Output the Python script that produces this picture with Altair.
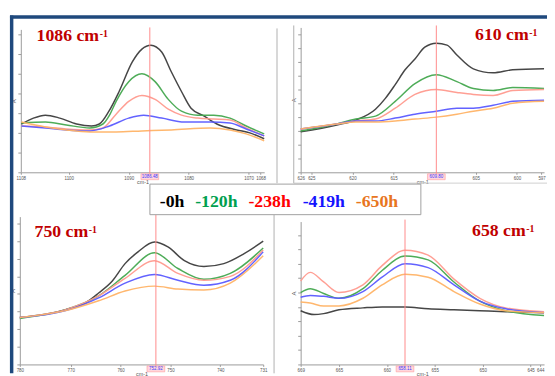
import altair as alt
import pandas as pd

SERIES = ["-0h", "-120h", "-238h", "-419h", "-650h"]
LINE_COLORS = ["#3c3c3c", "#45a84f", "#ff9a8e", "#5a5aff", "#ffb366"]
LABEL_COLORS = ["#000000", "#00a04f", "#ff0000", "#1414ff", "#e8761e"]

# ---------------- panel 1 : 1086 cm-1 ----------------
P1_WN = {
    "-0h": [1107.9, 1105.9, 1103.9, 1101.5, 1098.7, 1096.2, 1094.9, 1093.3, 1091.6, 1089.4, 1087.8,
            1086.3, 1084.5, 1082.9, 1081.2, 1079.6, 1077.4, 1075.3, 1072.0, 1069.8, 1067.4],
    "-120h": [1107.9, 1103.9, 1100.4, 1096.5, 1094.3, 1093.2, 1092.1, 1090.0, 1087.8, 1085.6, 1083.4,
              1081.2, 1078.5, 1075.8, 1073.1, 1070.4, 1067.4],
    "-238h": [1107.9, 1103.9, 1100.4, 1096.5, 1094.3, 1092.1, 1090.0, 1087.8, 1085.6, 1083.4, 1081.2,
              1078.5, 1075.8, 1073.1, 1070.4, 1067.4],
    "-419h": [1107.9, 1103.9, 1100.4, 1096.5, 1093.2, 1090.0, 1087.5, 1084.5, 1080.7, 1076.4, 1073.1,
              1070.4, 1067.4],
    "-650h": [1107.9, 1103.9, 1100.4, 1096.5, 1092.1, 1087.8, 1082.9, 1076.4, 1073.1, 1070.4, 1067.4],
}
P1_A = {
    "-0h": [0.49, 0.55, 0.58, 0.55, 0.49, 0.47, 0.49, 0.62, 0.82, 1.12, 1.25,
            1.29, 1.22, 1.02, 0.82, 0.65, 0.57, 0.49, 0.43, 0.40, 0.34],
    "-120h": [0.50, 0.51, 0.48, 0.45, 0.49, 0.58, 0.72, 0.92, 1.00, 0.92, 0.74,
              0.62, 0.58, 0.58, 0.55, 0.47, 0.39],
    "-238h": [0.47, 0.46, 0.44, 0.43, 0.45, 0.59, 0.72, 0.78, 0.74, 0.64, 0.58,
              0.55, 0.54, 0.53, 0.45, 0.37],
    "-419h": [0.47, 0.45, 0.43, 0.42, 0.47, 0.55, 0.58, 0.55, 0.51, 0.51, 0.50, 0.44, 0.37],
    "-650h": [0.51, 0.46, 0.43, 0.41, 0.41, 0.42, 0.43, 0.45, 0.43, 0.39, 0.32],
}
P1_XTICKS = [1108, 1100, 1090, 1080, 1070, 1068]
P1_CURSOR = 1086.48

# ---------------- panel 2 : 610 cm-1 ----------------
P2_COMMON_WN = [626.3, 621.9, 619.6, 617.2, 614.8, 612.4, 609.8, 607.3, 605.3, 602.9, 600.5, 596.7]
P2_WN = {
    "-0h": [626.3, 621.9, 619.6, 617.2, 616.0, 614.8, 613.6, 612.4, 611.2, 609.8, 608.5, 607.3,
            605.3, 602.9, 600.5, 596.7],
    "-120h": P2_COMMON_WN,
    "-238h": P2_COMMON_WN,
    "-419h": P2_COMMON_WN,
    "-650h": P2_COMMON_WN,
}
P2_A = {
    "-0h": [0.41, 0.48, 0.53, 0.64, 0.75, 0.89, 1.04, 1.15, 1.27, 1.31, 1.29, 1.19,
            1.05, 1.01, 1.04, 1.05],
    "-120h": [0.42, 0.49, 0.54, 0.57, 0.72, 0.90, 0.99, 0.92, 0.85, 0.83, 0.86, 0.85],
    "-238h": [0.44, 0.49, 0.52, 0.54, 0.65, 0.79, 0.84, 0.81, 0.79, 0.78, 0.83, 0.84],
    "-419h": [0.44, 0.49, 0.52, 0.52, 0.55, 0.59, 0.62, 0.65, 0.65, 0.68, 0.72, 0.73],
    "-650h": [0.44, 0.49, 0.51, 0.51, 0.52, 0.54, 0.56, 0.59, 0.62, 0.65, 0.70, 0.72],
}
P2_XTICKS = [626.3, 625, 620, 615, 605, 600, 597]
P2_CURSOR = 609.8

# ---------------- panel 3 : 750 cm-1 ----------------
P3_COMMON_WN = [780.2, 771.0, 764.4, 759.1, 753.2, 748.5, 743.3, 738.0, 731.4]
P3_WN = {
    "-0h": [780.2, 771.0, 767.0, 764.4, 761.7, 759.1, 756.5, 753.2, 750.5, 747.2, 743.3, 739.3,
            735.3, 731.4],
    "-120h": P3_COMMON_WN,
    "-238h": P3_COMMON_WN,
    "-419h": P3_COMMON_WN,
    "-650h": P3_COMMON_WN,
}
P3_A = {
    "-0h": [0.48, 0.56, 0.63, 0.73, 0.85, 1.03, 1.15, 1.25, 1.20, 1.06, 1.00, 1.03, 1.13, 1.26],
    "-120h": [0.47, 0.56, 0.70, 0.91, 1.14, 0.98, 0.87, 0.93, 1.19],
    "-238h": [0.48, 0.56, 0.70, 0.88, 1.06, 0.93, 0.86, 0.90, 1.17],
    "-419h": [0.48, 0.55, 0.68, 0.83, 0.92, 0.86, 0.81, 0.86, 1.15],
    "-650h": [0.48, 0.55, 0.65, 0.75, 0.80, 0.77, 0.76, 0.83, 1.11],
}
P3_XTICKS = [780.2, 770, 760, 750, 740, 731.4]
P3_CURSOR = 752.92

# ---------------- panel 4 : 658 cm-1 ----------------
P4_COMMON_WN = [669.0, 668.0, 666.6, 665.0, 662.5, 660.5, 658.1, 655.7, 653.0, 650.3, 647.6, 643.6]
P4_WN = {
    "-0h": [669.0, 667.6, 666.6, 665.0, 662.5, 660.5, 658.1, 655.7, 653.0, 650.3, 647.6, 643.6],
    "-120h": P4_COMMON_WN,
    "-238h": P4_COMMON_WN,
    "-419h": P4_COMMON_WN,
    "-650h": P4_COMMON_WN,
}
P4_A = {
    "-0h": [0.56, 0.52, 0.53, 0.57, 0.59, 0.60, 0.60, 0.58, 0.57, 0.56, 0.55, 0.54],
    "-120h": [0.75, 0.79, 0.74, 0.69, 0.79, 0.98, 1.13, 1.09, 0.86, 0.66, 0.56, 0.51],
    "-238h": [0.87, 0.96, 0.86, 0.75, 0.83, 1.03, 1.19, 1.14, 0.89, 0.69, 0.59, 0.55],
    "-419h": [0.70, 0.72, 0.71, 0.69, 0.76, 0.91, 1.05, 1.01, 0.83, 0.66, 0.58, 0.54],
    "-650h": [0.65, 0.64, 0.61, 0.61, 0.69, 0.83, 0.94, 0.91, 0.76, 0.63, 0.56, 0.54],
}
P4_XTICKS = [669, 665, 660, 655, 650, 645, 644]
P4_CURSOR = 658.11

PANEL_TITLES = ["1086", "610", "750", "658"]

W, H = 547, 368
SERIF = "Liberation Serif"
SANS = "Liberation Sans"
GRAY = "#9a9a9a"
CURSOR_RED = "#ff8a8a"
ONE = pd.DataFrame({"k": [0]})


def panel(wn, ab, xdom, ydom, xr, yr, xticks, yticks, cursor):
    rows = []
    for s in SERIES:
        for w_, a_ in zip(wn[s], ab[s]):
            rows.append({"series": s, "wn": w_, "A": a_})
    df = pd.DataFrame(rows)
    xs = alt.Scale(domain=xdom, range=xr, nice=False, zero=False)
    ys = alt.Scale(domain=ydom, range=yr, nice=False, zero=False)
    xaxis = alt.Axis(orient="bottom", offset=yr[0] - H, values=xticks, format="d",
                     labelFontSize=4.5, labelColor="#555555", labelPadding=1, labelFont=SANS,
                     labelFlush=False, labelOverlap=False, tickSize=2, tickColor=GRAY,
                     domainColor=GRAY, grid=False, title="cm-1", titleFontSize=5.5,
                     titleFont=SANS, titleFontWeight="normal", titleColor="#555555",
                     titlePadding=0)
    yaxis = alt.Axis(orient="left", offset=-xr[0], values=yticks, labels=False, tickSize=3,
                     tickColor=GRAY, domainColor=GRAY, grid=False, title="A",
                     titleFontSize=6, titleFont=SANS, titleFontWeight="normal",
                     titleColor="#555555", titlePadding=1)
    lines = alt.Chart(df).mark_line(interpolate="monotone", strokeWidth=1.5, opacity=0.95).encode(
        x=alt.X("wn:Q", scale=xs, axis=xaxis),
        y=alt.Y("A:Q", scale=ys, axis=yaxis),
        color=alt.Color("series:N", scale=alt.Scale(domain=SERIES, range=LINE_COLORS), legend=None),
    )
    rule = alt.Chart(ONE).mark_rule(strokeWidth=1).encode(
        x=alt.X(datum=cursor, scale=xs, axis=xaxis),
        y=alt.value(yr[1] - 2), y2=alt.value(yr[0] + 4),
        color=alt.value(CURSOR_RED),
    )
    box = alt.Chart(ONE).mark_rect(width=18, strokeWidth=0.6).encode(
        x=alt.X(datum=cursor, scale=xs, axis=xaxis),
        y=alt.value(yr[0] + 1.5), y2=alt.value(yr[0] + 7.5),
        fill=alt.value("#ffd6dc"), stroke=alt.value("#ff9a9a"),
    )
    lab = alt.Chart(pd.DataFrame({"c": [f"{cursor:.2f}"]})).mark_text(
        fontSize=4.5, font=SANS, baseline="middle", align="center"
    ).encode(
        x=alt.X(datum=cursor, scale=xs, axis=xaxis),
        y=alt.value(yr[0] + 4.5),
        text="c:N",
        color=alt.value("#3a3aff"),
    )
    return alt.layer(lines, rule, box, lab)


def hrule(x1, x2, y, color, w):
    return alt.Chart(ONE).mark_rule(strokeWidth=w).encode(
        x=alt.value(x1), x2=alt.value(x2), y=alt.value(y), color=alt.value(color))


def vrule(x, y1, y2, color, w):
    return alt.Chart(ONE).mark_rule(strokeWidth=w).encode(
        x=alt.value(x), y=alt.value(y1), y2=alt.value(y2), color=alt.value(color))


def title(num, x, y):
    main = alt.Chart(pd.DataFrame({"t": [num + " cm"]})).mark_text(
        font=SERIF, fontWeight="bold", fontSize=18, color="#c00000", align="left",
        baseline="alphabetic").encode(x=alt.value(x), y=alt.value(y), text="t:N")
    sup_x = x + 9 * len(num) + 28
    sup = alt.Chart(pd.DataFrame({"t": ["-1"]})).mark_text(
        font=SERIF, fontWeight="bold", fontSize=10, color="#c00000", align="left",
        baseline="alphabetic").encode(x=alt.value(sup_x), y=alt.value(y - 4), text="t:N")
    return [main, sup]


p1 = panel(P1_WN, P1_A, [1108, 1067.4], [0, 1.45], [13, 260], [164, 19], P1_XTICKS,
           [0, 0.2, 0.4, 0.6, 0.8, 1.0, 1.2, 1.4], P1_CURSOR)
p2 = panel(P2_WN, P2_A, [626.3, 596.7], [0, 1.47], [297, 544], [164, 17], P2_XTICKS,
           [0, 0.14, 0.28, 0.42, 0.56, 0.70, 0.84, 0.98, 1.12, 1.26, 1.40], P2_CURSOR)
p3 = panel(P3_WN, P3_A, [780.2, 731.4], [0, 1.51], [12, 259], [359, 209], P3_XTICKS,
           [0, 0.18, 0.36, 0.54, 0.72, 0.90, 1.08, 1.26, 1.44], P3_CURSOR)
p4 = panel(P4_WN, P4_A, [669.0, 643.6], [0, 1.49], [297, 544], [359, 214], P4_XTICKS,
           [0, 0.15, 0.30, 0.45, 0.60, 0.75, 0.90, 1.05, 1.20, 1.35], P4_CURSOR)

deco = [
    vrule(273, 18, 175, "#b0b0b0", 1),
    vrule(290, 15, 175, "#b0b0b0", 1),
    hrule(290, W, 175, "#d0d0d0", 1),
    vrule(270, 207, H, "#b0b0b0", 1),
    vrule(3.7, 5, H, "#1f497d", 3.5),
    hrule(2, W, 6.5, "#1f497d", 3.5),
]

legend_box = alt.Chart(ONE).mark_rect(strokeWidth=1).encode(
    x=alt.value(144), x2=alt.value(419), y=alt.value(176), y2=alt.value(207),
    fill=alt.value("white"), stroke=alt.value("#a0a0a0"))
LEGEND_X = [154, 190, 244, 299, 353]
legend_txt = [
    alt.Chart(pd.DataFrame({"t": [s]})).mark_text(
        font=SERIF, fontWeight="bold", fontSize=18, align="left",
        baseline="alphabetic").encode(x=alt.value(lx), y=alt.value(199), text="t:N",
                                      color=alt.value(c))
    for s, c, lx in zip(SERIES, LABEL_COLORS, LEGEND_X)
]

titles = (title(PANEL_TITLES[0], 29, 31) + title(PANEL_TITLES[1], 474, 30)
          + title(PANEL_TITLES[2], 27, 230) + title(PANEL_TITLES[3], 471, 229))

chart = alt.layer(*deco, p1, p2, p3, p4, legend_box, *legend_txt, *titles).resolve_scale(
    x="independent", y="independent"
).resolve_axis(x="independent", y="independent").properties(
    width=W, height=H, autosize=alt.AutoSizeParams(type="none"), padding=0,
    background="white",
).configure_view(stroke=None)

chart.save("out.html", embed_options={"renderer": "svg", "actions": False})
